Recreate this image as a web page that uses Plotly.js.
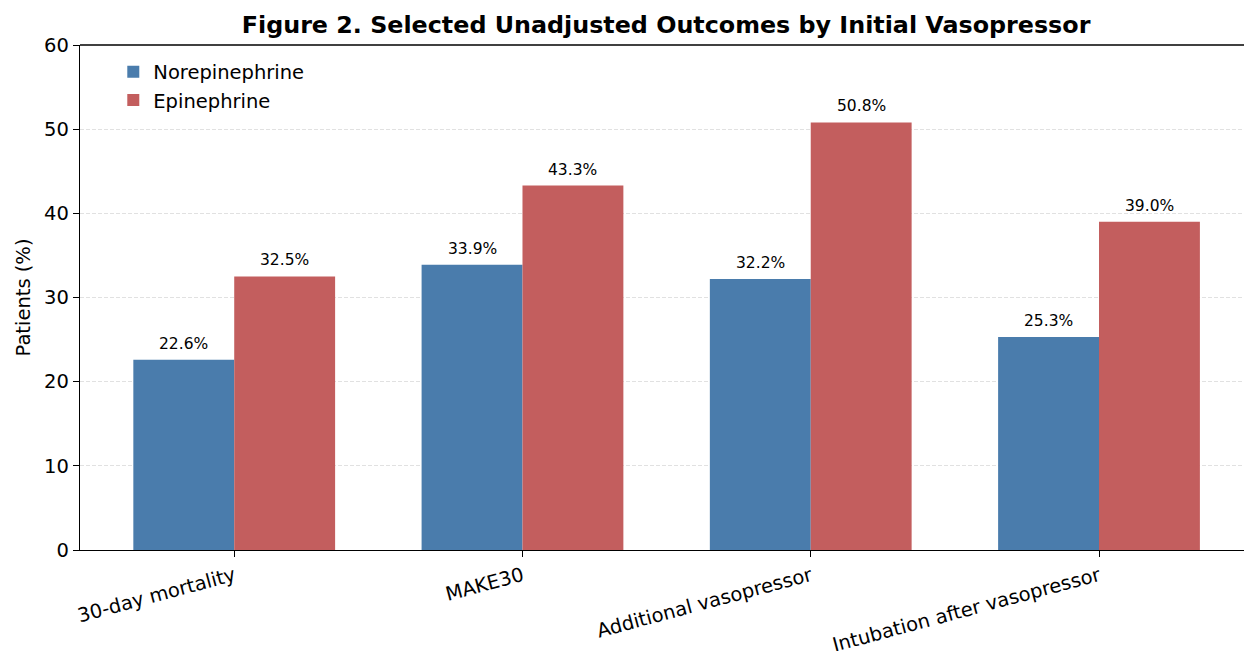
<!DOCTYPE html>
<html>
<head>
<meta charset="utf-8">
<script src="https://cdn.plot.ly/plotly-3.0.1.min.js"></script>
<style>html,body{margin:0;padding:0;background:#fff;}#chart{width:1244px;height:651px;}</style>
</head>
<body>
<div id="chart"></div>
<script>
const categories = ["30-day mortality", "MAKE30", "Additional vasopressor", "Intubation after vasopressor"];
const norepinephrine = [22.6, 33.9, 32.2, 25.3];
const epinephrine = [32.5, 43.3, 50.8, 39.0];
const seriesNames = ["Norepinephrine", "Epinephrine"];
const yTicks = [0, 10, 20, 30, 40, 50, 60];

const FONT = "DejaVu Sans, sans-serif";
const blue = "#4a7cac";
const red = "#c35e5e";
const idx = categories.map((_, i) => i);
const TICK = 19.5;

const traces = [
  {type: "bar", name: seriesNames[0], x: idx, y: norepinephrine, marker: {color: blue}, offset: -0.35, width: 0.35, hoverinfo: "y"},
  {type: "bar", name: seriesNames[1], x: idx, y: epinephrine, marker: {color: red}, offset: 0, width: 0.35, hoverinfo: "y"}
];

const annotations = [];
norepinephrine.forEach((v, i) => annotations.push({x: i - 0.175, y: v, xref: "x", yref: "y", text: v.toFixed(1) + "%", showarrow: false, yanchor: "bottom", yshift: 5, font: {family: FONT, size: 15.5, color: "#000"}}));
epinephrine.forEach((v, i) => annotations.push({x: i + 0.175, y: v, xref: "x", yref: "y", text: v.toFixed(1) + "%", showarrow: false, yanchor: "bottom", yshift: 5, font: {family: FONT, size: 15.5, color: "#000"}}));

const layout = {
  width: 1244, height: 651,
  margin: {l: 80, r: 0, t: 45, b: 101},
  paper_bgcolor: "#fff", plot_bgcolor: "#fff",
  font: {family: FONT, size: TICK, color: "#000"},
  title: {text: "<b>Figure 2. Selected Unadjusted Outcomes by Initial Vasopressor</b>", font: {family: FONT, size: 23.8, color: "#000"}, x: 0.5035, xref: "paper", xanchor: "center", y: 0.962, yanchor: "middle"},
  showlegend: true,
  legend: {x: 0.0286, y: 0.985, xanchor: "left", yanchor: "top", bgcolor: "rgba(0,0,0,0)", font: {family: FONT, size: TICK}, itemsizing: "constant", tracegroupgap: 0},
  xaxis: {
    range: [-0.535, 3.503], tickmode: "array", tickvals: idx, ticktext: categories, tickangle: -15,
    showline: true, linecolor: "#000", linewidth: 1.3, ticks: "outside", ticklen: 6, tickcolor: "#000",
    showgrid: false, zeroline: false, tickfont: {family: FONT, size: TICK}
  },
  yaxis: {
    range: [0, 60], tickmode: "array", tickvals: yTicks,
    showline: true, linecolor: "#000", linewidth: 1.3, ticks: "outside", ticklen: 6, tickcolor: "#000",
    showgrid: true, gridcolor: "#d9d9d9", griddash: "4px,2px", gridwidth: 0.8, zeroline: false,
    tickfont: {family: FONT, size: TICK},
    title: {text: "Patients (%)", font: {family: FONT, size: TICK}, standoff: 8}
  },
  shapes: [{type: "line", xref: "paper", yref: "paper", x0: 0, x1: 1, y0: 1, y1: 1, line: {color: "#000", width: 1.3}}],
  annotations: annotations
};

Plotly.newPlot("chart", traces, layout, {displayModeBar: false, staticPlot: true});
</script>
</body>
</html>
